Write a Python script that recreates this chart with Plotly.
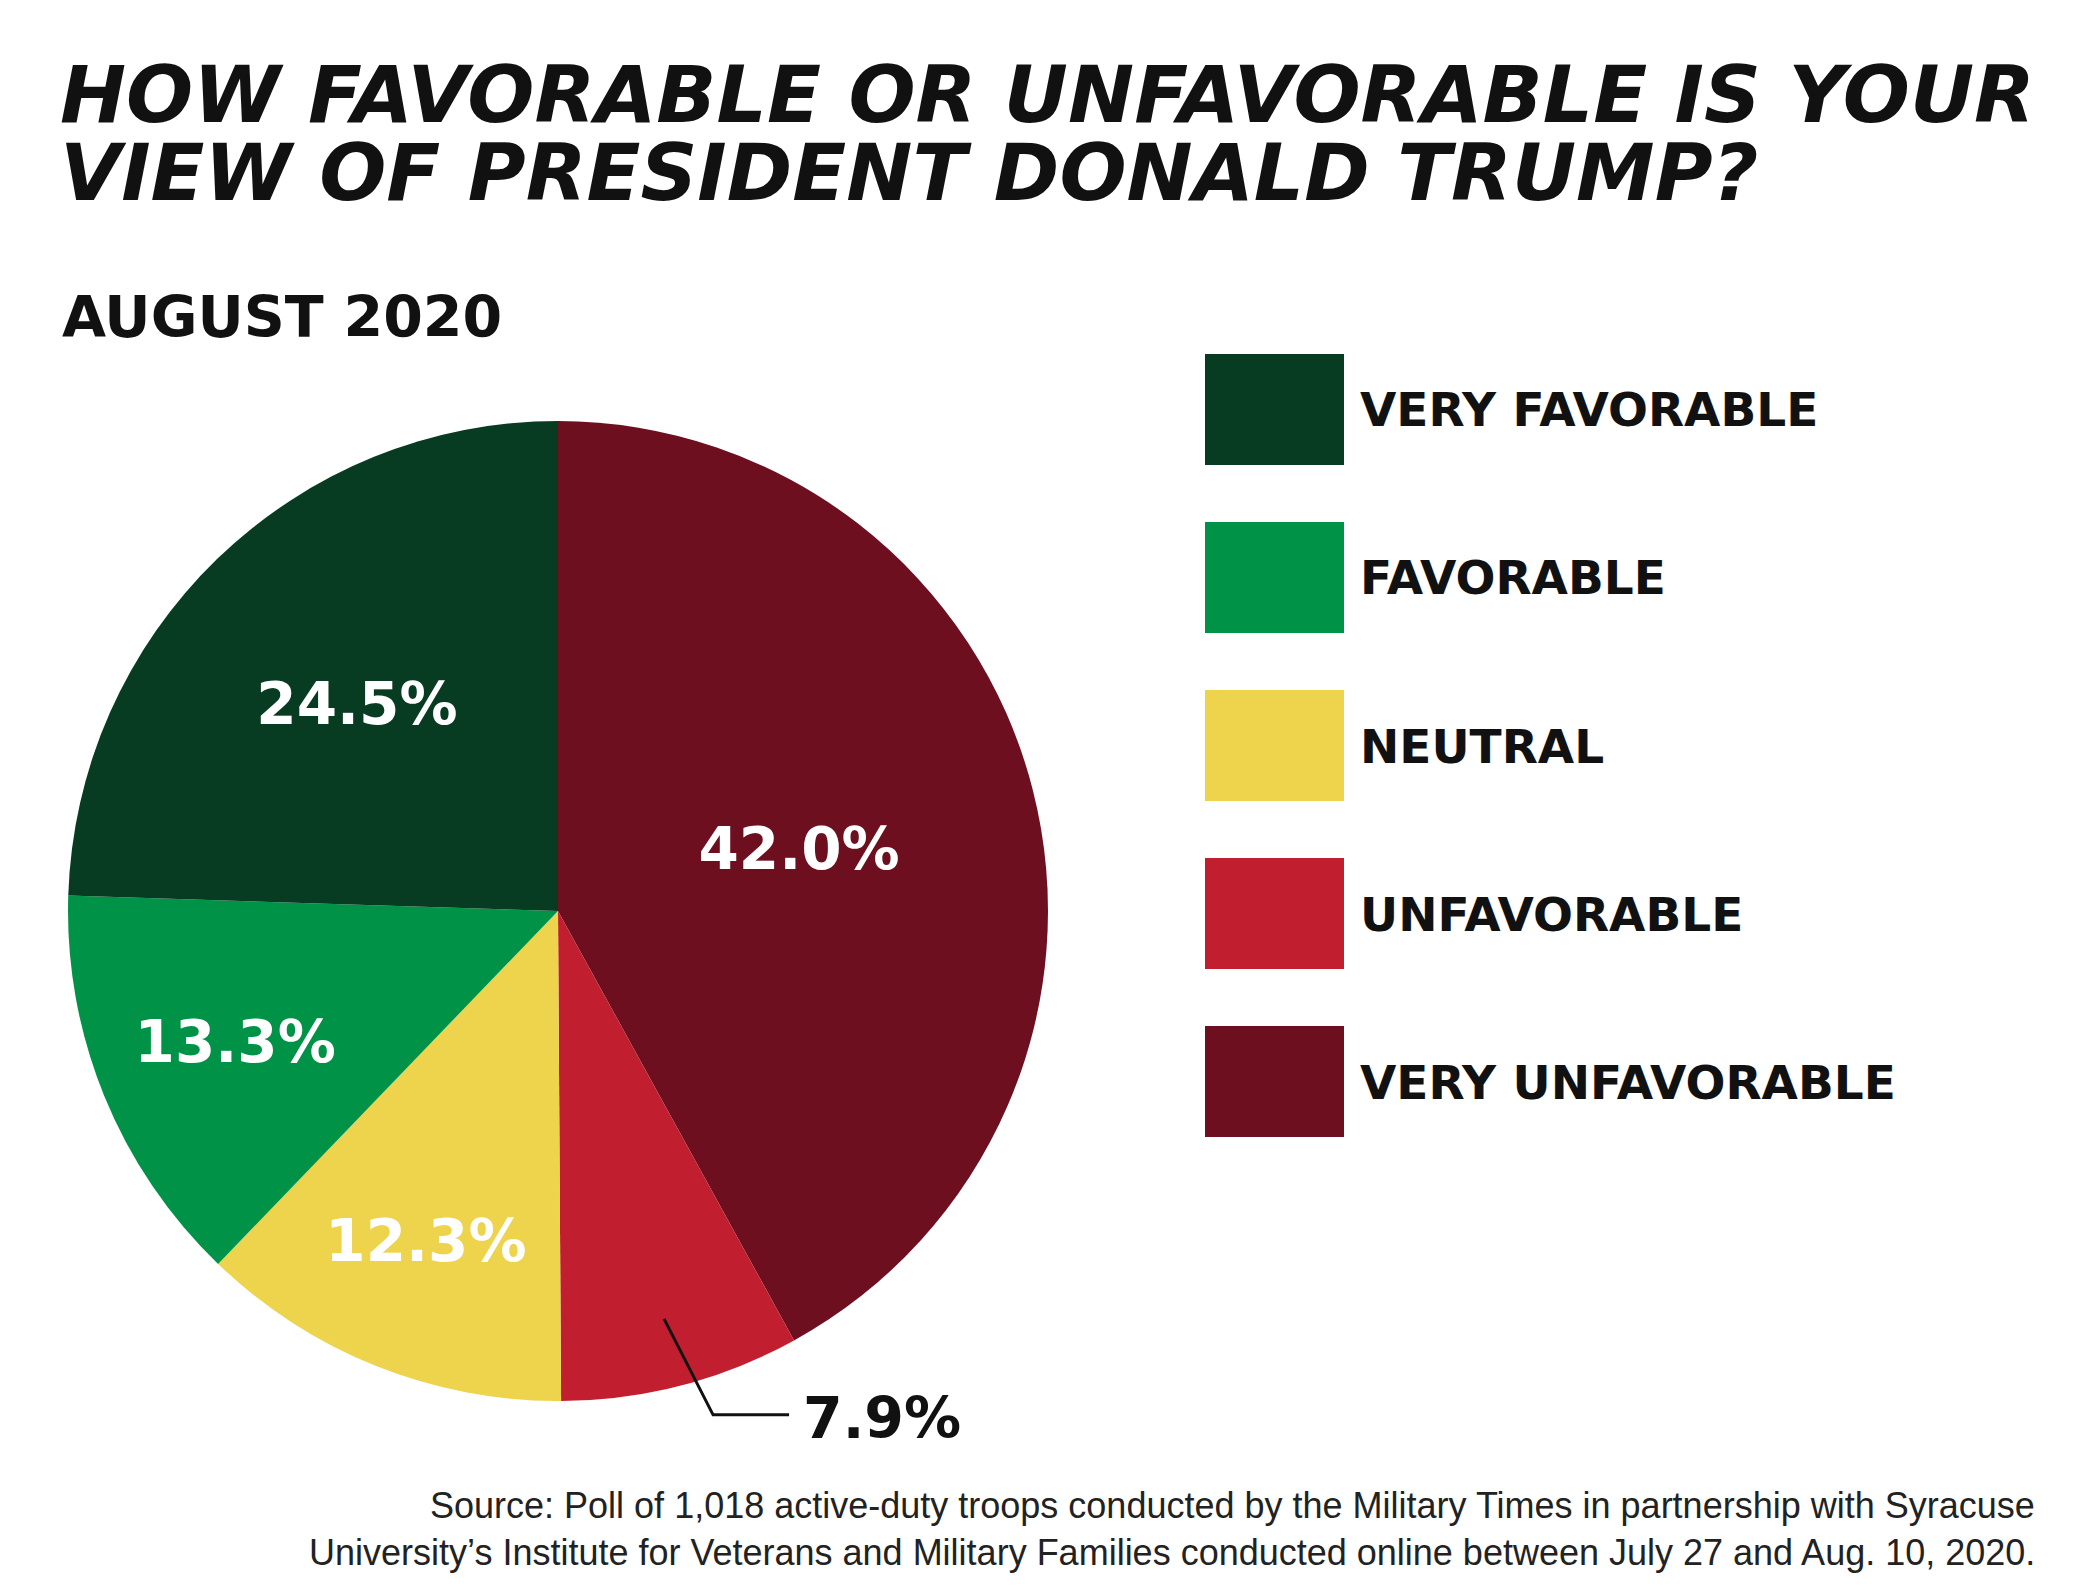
import math
import plotly.graph_objects as go

# poll answers, legend order (counter-clockwise around the pie from 12 o'clock)
categories = ["VERY FAVORABLE", "FAVORABLE", "NEUTRAL", "UNFAVORABLE", "VERY UNFAVORABLE"]
shares = [24.5, 13.3, 12.3, 7.9, 42.0]
labels = ["24.5%", "13.3%", "12.3%", "7.9%", "42.0%"]
colors = ["#073c22", "#009347", "#eed34c", "#c11f30", "#6d0f1e"]

title_lines = ["HOW FAVORABLE OR UNFAVORABLE IS YOUR", "VIEW OF PRESIDENT DONALD TRUMP?"]
subtitle = "AUGUST 2020"
source_lines = [
    "Source: Poll of 1,018 active-duty troops conducted by the Military Times in partnership with Syracuse",
    "University\u2019s Institute for Veterans and Military Families conducted online between July 27 and Aug. 10, 2020.",
]

W, H = 2082, 1594
BOLD = "DejaVu Sans"

# pie placement in pixels
cx, cy, r = 550, 903, 490


def px(x):
    return x / W


def py(y):
    return 1 - y / H


# small slice gets its label outside with a leader line
k = categories.index("UNFAVORABLE")
textpos = ["none" if i == k else "inside" for i in range(len(categories))]

# plotly goes clockwise from 12 o'clock, so feed the slices reversed
fig = go.Figure()
fig.add_trace(go.Pie(
    labels=categories[::-1], values=shares[::-1], text=labels[::-1],
    textinfo="text", sort=False, direction="clockwise", rotation=0,
    marker=dict(colors=colors[::-1], line=dict(width=0)),
    textposition=textpos[::-1],
    insidetextorientation="horizontal",
    textfont=dict(family=BOLD, size=58, color="white", weight="bold"),
    domain=dict(x=[px(cx - r), px(cx + r)], y=[py(cy + r), py(cy - r)]),
    hoverinfo="label+percent", showlegend=False,
))

annotations = []
shapes = []

# title and subtitle
for i, line in enumerate(title_lines):
    annotations.append(dict(
        text=line, x=px(50), y=py(87 + 78 * i), xref="paper", yref="paper",
        xanchor="left", yanchor="middle", showarrow=False,
        font=dict(family=BOLD, size=79, color="#111111", weight="bold", style="italic"),
    ))
annotations.append(dict(
    text=subtitle, x=px(52), y=py(309), xref="paper", yref="paper",
    xanchor="left", yanchor="middle", showarrow=False,
    font=dict(family=BOLD, size=57, color="#111111", weight="bold"),
))

# custom legend with big swatches
for i, (name, col) in enumerate(zip(categories, colors)):
    top = 346 + 168 * i
    shapes.append(dict(type="rect", xref="paper", yref="paper",
                       x0=px(1197), x1=px(1336), y0=py(top + 111), y1=py(top),
                       fillcolor=col, line=dict(width=0)))
    annotations.append(dict(
        text=name, x=px(1350), y=py(top + 56), xref="paper", yref="paper",
        xanchor="left", yanchor="middle", showarrow=False,
        font=dict(family=BOLD, size=47, color="#111111", weight="bold"),
    ))

# leader line for the small slice, placed from its mid angle
mid = (sum(shares[:k]) + shares[k] / 2) / sum(shares) * 2 * math.pi
dx, dy = -math.sin(mid), -math.cos(mid)
x0, y0 = cx + 0.86 * r * dx, cy + 0.86 * r * dy
x1, y1 = x0 + 0.1 * r, y0 + 0.196 * r
x2 = x1 + 76
shapes.append(dict(type="path", xref="paper", yref="paper",
                   path=f"M {px(x0)},{py(y0)} L {px(x1)},{py(y1)} L {px(x2)},{py(y1)}",
                   line=dict(color="#111111", width=3)))
annotations.append(dict(
    text=labels[k], x=px(x2 + 12), y=py(y1 + 3), xref="paper", yref="paper",
    xanchor="left", yanchor="middle", showarrow=False,
    font=dict(family=BOLD, size=57, color="#111111", weight="bold"),
))

# source note
for i, line in enumerate(source_lines):
    annotations.append(dict(
        text=line, x=px(2029), y=py(1497 + 47 * i), xref="paper", yref="paper",
        xanchor="right", yanchor="middle", showarrow=False,
        font=dict(family="Liberation Sans", size=36, color="#222222"),
    ))

fig.update_layout(
    width=W, height=H, margin=dict(l=0, r=0, t=0, b=0),
    paper_bgcolor="white", plot_bgcolor="white",
    annotations=annotations, shapes=shapes,
)

fig.write_html("out.html")
